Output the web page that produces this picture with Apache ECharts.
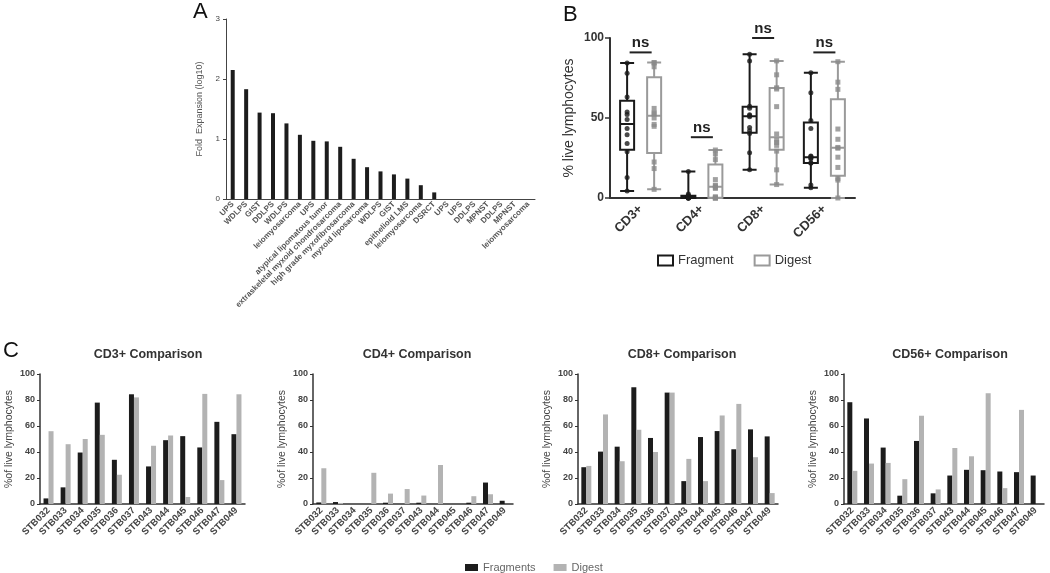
<!DOCTYPE html>
<html><head><meta charset="utf-8">
<script src="https://cdn.jsdelivr.net/npm/echarts@6/dist/echarts.min.js"></script>
<style>html,body{margin:0;padding:0;background:#fff}#c{width:1050px;height:573px}</style>
</head><body><div id="c"></div>
<script>
// ---------- Panel A data ----------
const aLabels = ['UPS','WDLPS','GIST','DDLPS','WDLPS','leiomyosarcoma','UPS','atypical lipomatous tumor','extraskeletal myxoid chondrosarcoma','high grade myxofibrosarcoma','myxoid liposarcoma','WDLPS','GIST','epithelioid LMS','leiomyosarcoma','DSRCT','UPS','UPS','DDLPS','MPNST','DDLPS','MPNST','leiomyosarcoma'];
const foldExpansion = [2.15,1.83,1.44,1.43,1.26,1.07,0.97,0.96,0.87,0.67,0.53,0.46,0.41,0.34,0.23,0.11,0,0,0,0,0,0,0];
const aTicks = [0,1,2,3];

// ---------- Panel B / C data ----------
const markers = ['CD3+','CD4+','CD8+','CD56+'];
const samples = ['STB032','STB033','STB034','STB035','STB036','STB037','STB043','STB044','STB045','STB046','STB047','STB049'];
const cd3Frag  = [4.3,12.8,39.6,78,34,84.4,28.9,49.1,52.2,43.5,63.2,53.7];
const cd3Dig   = [56,46,50,53.2,22.5,82,44.8,52.7,5.4,84.7,18.4,84.4];
const cd4Frag  = [1.2,1.5,0,0,1,0,1,0,0,1,16.5,2.5];
const cd4Dig   = [27.5,0.8,0,24,8,11.5,6.5,30,0,6,7.5,0];
const cd8Frag  = [28.3,40.3,44.1,89.8,50.8,85.7,17.6,51.5,56.1,42.1,57.4,52];
const cd8Dig   = [29.3,68.9,32.9,57.1,40,85.7,34.7,17.6,68.1,77,36,8.4];
const cd56Frag = [78.3,65.8,43.4,6.4,48.5,8.2,21.9,26.3,26,25,24.5,21.9];
const cd56Dig  = [25.5,31.1,31.6,19.1,67.9,11.2,43.1,36.7,85.2,12.2,72.4,0];
const nsLevels = [91,38,100,91];
const fragSets = [cd3Frag, cd4Frag, cd8Frag, cd56Frag];
const digSets  = [cd3Dig, cd4Dig, cd8Dig, cd56Dig];
const cTitles = ['CD3+ Comparison','CD4+ Comparison','CD8+ Comparison','CD56+ Comparison'];

// ---------- helpers ----------
function pct(sorted, p){
  const n = sorted.length; let pos = (n+1)*p;
  if (pos < 1) pos = 1; if (pos > n) pos = n;
  const lo = Math.floor(pos), f = pos - lo;
  const a = sorted[lo-1], b = sorted[Math.min(lo, n-1)];
  return a + f*(b-a);
}
function boxStats(arr){
  const s = arr.slice().sort((x,y)=>x-y);
  return [s[0], pct(s,0.25), pct(s,0.5), pct(s,0.75), s[s.length-1]];
}

const FONT = 'Liberation Sans, Arial, sans-serif';
const BLK = '#1c1c1c', GRY = '#b3b3b3', DOT_G = '#8a8a8a';

// layout
const gA = {left:226, top:19, width:309, height:180};
const gB = {left:610, top:38, width:245, height:160};
const gC = [
  {left:40, top:374, width:205, height:130},
  {left:313, top:374, width:200, height:130},
  {left:578, top:374, width:200, height:130},
  {left:844, top:374, width:200, height:130}
];
const cTitleX = [143, 412, 677, 945];

const band = gB.width/4;
const off = 0.2875*(band*0.8-2)/band;

const grids = [gA, gB].concat(gC);
const xAxes = [], yAxes = [], series = [];

// Panel A
xAxes.push({gridIndex:0, type:'category', data:aLabels,
  axisLine:{lineStyle:{color:'#444', width:1}},
  axisTick:{alignWithLabel:true, length:3, lineStyle:{color:'#444'}},
  axisLabel:{interval:0, rotate:45, fontSize:8, fontWeight:'bold', color:'#555', fontFamily:FONT, margin:4}});
yAxes.push({gridIndex:0, type:'value', min:aTicks[0], max:aTicks[aTicks.length-1], interval:1,
  axisLine:{show:true, lineStyle:{color:'#444', width:1}},
  axisTick:{show:true, length:3, lineStyle:{color:'#444'}},
  axisLabel:{fontSize:8, color:'#444', fontFamily:FONT, margin:6},
  splitLine:{show:false},
  name:'Fold  Expansion (log10)', nameLocation:'middle', nameGap:22,
  nameTextStyle:{fontSize:9, color:'#555', fontFamily:FONT}});
series.push({type:'bar', xAxisIndex:0, yAxisIndex:0, data:foldExpansion, barWidth:4,
  itemStyle:{color:BLK}, silent:true});

// Panel B: category axis (boxplot) + hidden value axis (dots, ns)
xAxes.push({gridIndex:1, type:'category', data:markers,
  axisLine:{lineStyle:{color:'#333', width:2}},
  axisTick:{alignWithLabel:true, length:5, lineStyle:{color:'#333', width:1.5}},
  axisLabel:{interval:0, rotate:45, fontSize:13, fontWeight:'bold', color:'#333', fontFamily:FONT, margin:9}});
xAxes.push({gridIndex:1, type:'value', min:-0.5, max:3.5, show:false});
yAxes.push({gridIndex:1, type:'value', min:0, max:100, interval:50,
  axisLine:{show:true, onZero:false, lineStyle:{color:'#333', width:2}},
  axisTick:{show:true, length:5, lineStyle:{color:'#333', width:1.5}},
  axisLabel:{fontSize:12, fontWeight:'bold', color:'#333', fontFamily:FONT, margin:6},
  splitLine:{show:false},
  name:'% live lymphocytes', nameLocation:'middle', nameGap:34,
  nameTextStyle:{fontSize:14, color:'#333', fontFamily:FONT}});

series.push({name:'Fragment', type:'boxplot', xAxisIndex:1, yAxisIndex:1, boxWidth:[14,14],
  data: fragSets.map(boxStats),
  itemStyle:{color:'#fff', borderColor:'#1a1a1a', borderWidth:2}, silent:true});
series.push({name:'Digest', type:'boxplot', xAxisIndex:1, yAxisIndex:1, boxWidth:[14,14],
  data: digSets.map(boxStats),
  itemStyle:{color:'#fff', borderColor:'#9a9a9a', borderWidth:2}, silent:true});
const fragDots = [], digDots = [];
fragSets.forEach((arr,i)=>arr.forEach(v=>fragDots.push([i-off, v])));
digSets.forEach((arr,i)=>arr.forEach(v=>digDots.push([i+off, v])));
series.push({type:'scatter', xAxisIndex:2, yAxisIndex:1, data:fragDots, symbol:'circle', symbolSize:5,
  itemStyle:{color:'#1a1a1a'}, silent:true, z:5});
series.push({type:'scatter', xAxisIndex:2, yAxisIndex:1, data:digDots, symbol:'rect', symbolSize:5,
  itemStyle:{color:DOT_G}, silent:true, z:5});
series.push({type:'custom', xAxisIndex:2, yAxisIndex:1, silent:true,
  data: nsLevels.map((v,i)=>[i, v]),
  renderItem:function(params, api){
    const x = api.value(0), y = api.value(1);
    const p1 = api.coord([x-0.18, y]), p2 = api.coord([x+0.18, y]);
    return {type:'group', children:[
      {type:'line', shape:{x1:p1[0], y1:p1[1], x2:p2[0], y2:p2[1]}, style:{stroke:'#222', lineWidth:2}},
      {type:'text', x:(p1[0]+p2[0])/2, y:p1[1]-2, style:{text:'ns', align:'center', verticalAlign:'bottom',
        fontSize:15, fontWeight:'bold', fill:'#222', fontFamily:FONT}}
    ]};
  }});

// Panel C
gC.forEach((g, k)=>{
  const gi = 2 + k;
  const xi = xAxes.length, yi = yAxes.length;
  xAxes.push({gridIndex:gi, type:'category', data:samples,
    axisLine:{lineStyle:{color:'#333', width:1.5}},
    axisTick:{alignWithLabel:true, length:3, lineStyle:{color:'#333'}},
    axisLabel:{interval:0, rotate:45, fontSize:9.5, fontWeight:'bold', color:'#444', fontFamily:FONT, margin:5}});
  yAxes.push({gridIndex:gi, type:'value', min:0, max:100, interval:20,
    axisLine:{show:true, lineStyle:{color:'#333', width:1.5}},
    axisTick:{show:true, length:3, lineStyle:{color:'#333'}},
    axisLabel:{fontSize:9, fontWeight:'bold', color:'#444', fontFamily:FONT, margin:5},
    splitLine:{show:false},
    name:'%of live lymphocytes', nameLocation:'middle', nameGap:25,
    nameTextStyle:{fontSize:10.5, color:'#444', fontFamily:FONT}});
  series.push({name:'Fragments', type:'bar', xAxisIndex:xi, yAxisIndex:yi, data:fragSets[k],
    barWidth:5, barGap:'0%', itemStyle:{color:BLK}, silent:true});
  series.push({name:'Digest', type:'bar', xAxisIndex:xi, yAxisIndex:yi, data:digSets[k],
    barWidth:5, barGap:'0%', itemStyle:{color:GRY}, silent:true});
});

const option = {
  animation:false,
  backgroundColor:'#fff',
  textStyle:{fontFamily:FONT},
  grid: grids.map(g=>Object.assign({containLabel:false}, g)),
  xAxis: xAxes, yAxis: yAxes, series: series,
  title: cTitles.map((t,k)=>({text:t, left:cTitleX[k], top:343, textAlign:'center',
    textStyle:{fontSize:12.5, fontWeight:'bold', color:'#333', fontFamily:FONT}})),
  legend:[
    {left:652, top:249, itemWidth:15, itemHeight:10, itemGap:20, selectedMode:false,
     textStyle:{fontSize:13, color:'#333', fontFamily:FONT},
     data:[{name:'Fragment', icon:'rect', itemStyle:{color:'#fff', borderColor:'#1a1a1a', borderWidth:2}},
           {name:'Digest', icon:'rect', itemStyle:{color:'#fff', borderColor:'#9a9a9a', borderWidth:2}}]},
    {left:460, top:557, itemWidth:13, itemHeight:7, itemGap:18, selectedMode:false,
     textStyle:{fontSize:11, color:'#666', fontFamily:FONT},
     data:[{name:'Fragments', icon:'rect', itemStyle:{color:BLK, borderWidth:0}},
           {name:'Digest', icon:'rect', itemStyle:{color:GRY, borderWidth:0}}]}
  ],
  graphic:[
    {type:'text', left:193, top:1, style:{text:'A', fontSize:22, fill:'#111', fontFamily:FONT}},
    {type:'text', left:563, top:4, style:{text:'B', fontSize:22, fill:'#111', fontFamily:FONT}},
    {type:'text', left:3, top:340, style:{text:'C', fontSize:22, fill:'#111', fontFamily:FONT}}
  ]
};
const chart = echarts.init(document.getElementById('c'), null, {renderer:'canvas'});
chart.setOption(option);
</script></body></html>
